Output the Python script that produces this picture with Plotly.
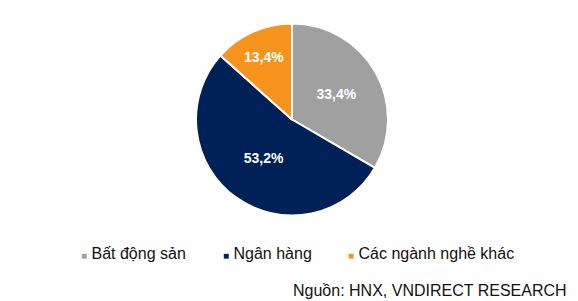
import plotly.graph_objects as go

categories = ["Bất động sản", "Ngân hàng", "Các ngành nghề khác"]
values = [33.4, 53.2, 13.4]
colors = ["#a0a0a0", "#002157", "#f7941d"]
source = "Nguồn: HNX, VNDIRECT RESEARCH"

labels_txt = [f"{v:.1f}%".replace(".", ",") for v in values]

fig = go.Figure(go.Pie(
    labels=categories,
    values=values,
    text=labels_txt,
    texttemplate="%{text}",
    textposition="inside",
    insidetextorientation="horizontal",
    insidetextfont=dict(family="Liberation Sans", size=14, color="white", weight="bold"),
    marker=dict(colors=colors, line=dict(color="white", width=2)),
    sort=False,
    direction="clockwise",
    rotation=0,
    showlegend=False,
    domain=dict(x=[196/578, 388/578], y=[85.5/301, 277.5/301]),
    hoverinfo="label+percent",
))

# legend built as annotations
leg_x = [79, 221, 346]
for name, col, x in zip(categories, colors, leg_x):
    fig.add_annotation(
        x=x, y=253, xref="x", yref="y", xanchor="left", yanchor="middle",
        text=f"<span style='color:{col};font-size:10px'>■</span> {name}",
        showarrow=False,
        font=dict(family="Liberation Sans", size=16, color="#111111"),
    )

fig.add_annotation(
    x=569, y=290, xref="x", yref="y", xanchor="right", yanchor="middle",
    text=source, showarrow=False,
    font=dict(family="Liberation Sans", size=16, color="#111111"),
)

fig.update_layout(
    width=578, height=301,
    margin=dict(l=0, r=0, t=0, b=0),
    paper_bgcolor="white", plot_bgcolor="white",
    xaxis=dict(range=[0, 578], visible=False, fixedrange=True),
    yaxis=dict(range=[301, 0], visible=False, fixedrange=True),
)

fig.write_html("out.html")
